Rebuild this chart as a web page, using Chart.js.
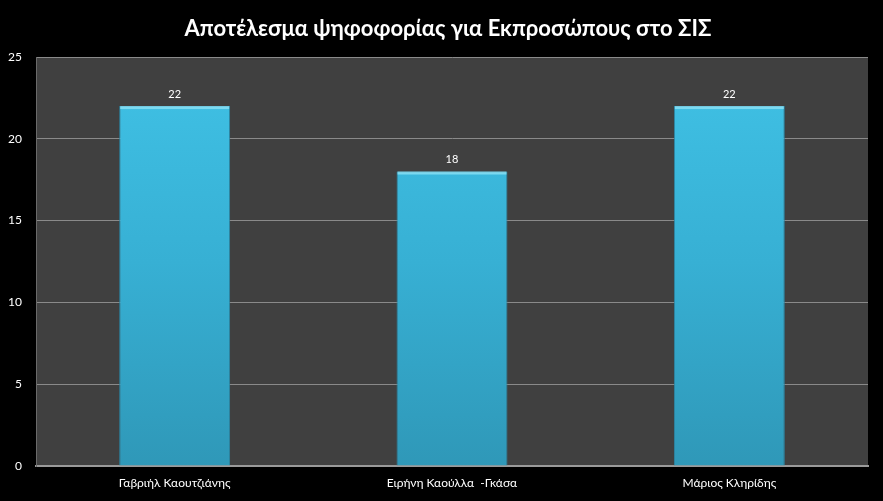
<!DOCTYPE html>
<html>
<head>
<meta charset="utf-8">
<script src="https://cdn.jsdelivr.net/npm/chart.js@4.4.0/dist/chart.umd.min.js"></script>
<style>
html,body{margin:0;padding:0;background:#000;}
#wrap{width:883px;height:501px;}
</style>
</head>
<body>
<div id="wrap"><canvas id="c" width="883" height="501"></canvas></div>
<script>
const categories = ["Γαβριήλ Καουτζιάνης", "Ειρήνη Καούλλα  -Γκάσα", "Μάριος Κληρίδης"];
const votes = [22, 18, 22];
const yTicks = [0, 5, 10, 15, 20, 25];
const titleText = "Αποτέλεσμα ψηφοφορίας για Εκπροσώπους στο ΣΙΣ";

const FONT = "Lato, 'Open Sans', sans-serif";

const bgPlugin = {
  id: 'bg',
  beforeDraw(chart) {
    const {ctx, chartArea: a} = chart;
    ctx.save();
    ctx.fillStyle = '#000';
    ctx.fillRect(0, 0, chart.width, chart.height);
    ctx.fillStyle = '#404040';
    ctx.fillRect(a.left, a.top, a.right - a.left, a.bottom - a.top);
    ctx.fillStyle = '#ffffff';
    ctx.font = "bold 22px " + FONT;
    ctx.textAlign = 'center';
    ctx.textBaseline = 'middle';
    ctx.fillText(titleText, 448, 29);
    ctx.restore();
  }
};

const labelPlugin = {
  id: 'vals',
  afterDatasetsDraw(chart) {
    const {ctx} = chart;
    const meta = chart.getDatasetMeta(0);
    ctx.save();
    ctx.fillStyle = '#ffffff';
    ctx.font = "11px " + FONT;
    ctx.textAlign = 'center';
    ctx.textBaseline = 'middle';
    meta.data.forEach((bar, i) => {
      ctx.fillText(String(chart.data.datasets[0].data[i]), bar.x, bar.y - 12);
      // light bevel on top edge
      ctx.fillStyle = 'rgba(140,225,245,0.8)';
      ctx.fillRect(bar.x - bar.width / 2 + 1, bar.y, bar.width - 2, 3);
      ctx.fillStyle = '#ffffff';
    });
    ctx.restore();
  }
};

function barFill(context) {
  const chart = context.chart;
  const a = chart.chartArea;
  if (!a) return '#3bbbe0';
  const g = chart.ctx.createLinearGradient(0, a.top, 0, a.bottom);
  g.addColorStop(0, '#40c2e6');
  g.addColorStop(0.5, '#37b0d4');
  g.addColorStop(1, '#2f98b8');
  return g;
}

new Chart(document.getElementById('c'), {
  type: 'bar',
  data: {
    labels: categories,
    datasets: [{
      data: votes,
      backgroundColor: barFill,
      borderColor: '#2a87a6',
      borderWidth: 1,
      categoryPercentage: 0.8,
      barPercentage: 0.5
    }]
  },
  options: {
    responsive: false,
    animation: false,
    devicePixelRatio: 1,
    layout: { padding: { left: 0, right: 15, top: 57, bottom: 0 } },
    plugins: {
      legend: { display: false },
      tooltip: { enabled: false },
      title: { display: false }
    },
    scales: {
      x: {
        grid: { display: false, drawTicks: false },
        border: { display: true, color: '#9a9a9a', width: 2 },
        ticks: { color: '#ffffff', font: { family: FONT, size: 12 }, padding: 10, maxRotation: 0 },
        afterFit(s) { s.height = 35; }
      },
      y: {
        min: 0, max: 25,
        afterBuildTicks(s) { s.ticks = yTicks.map(v => ({value: v})); },
        grid: { color: '#8a8a8a', lineWidth: 1, drawTicks: false },
        border: { display: true, color: '#6a6a6a', width: 1 },
        ticks: { color: '#ffffff', font: { family: FONT, size: 12 }, padding: 14 },
        afterFit(s) { s.width = 36; }
      }
    }
  },
  plugins: [bgPlugin, labelPlugin]
});
</script>
</body>
</html>
